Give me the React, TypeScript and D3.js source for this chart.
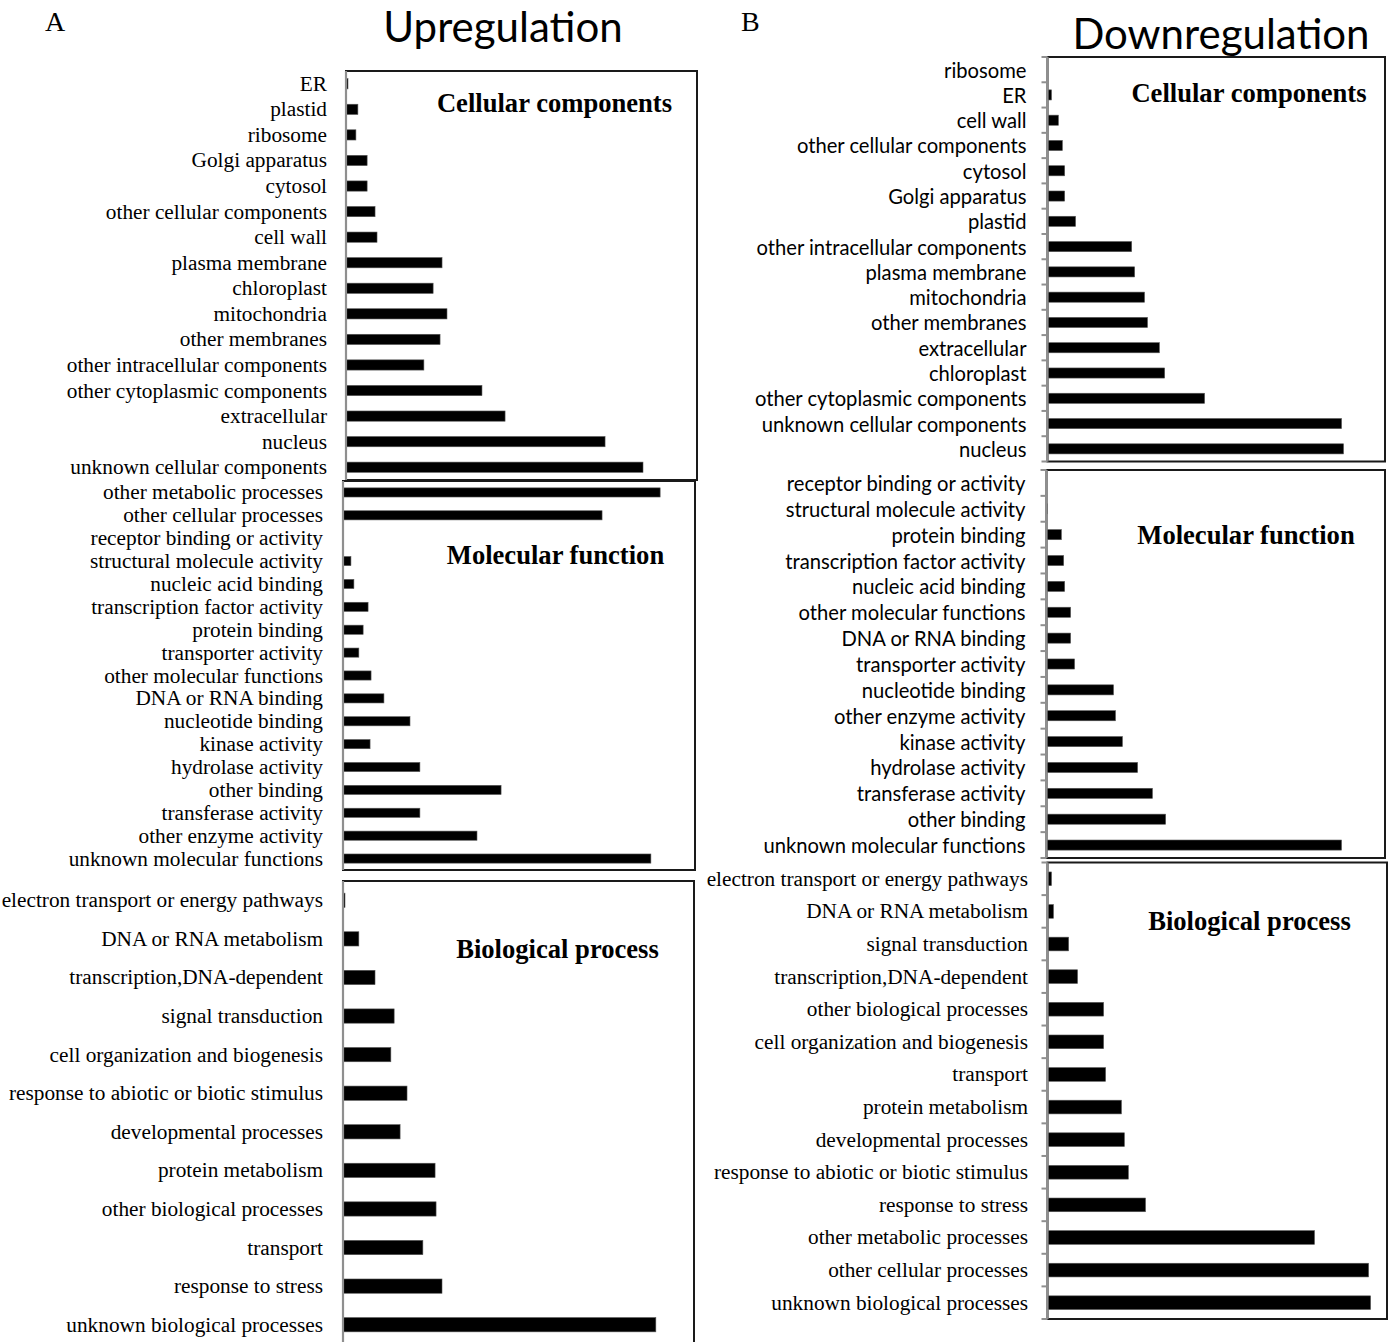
import React from "react";
import * as d3 from "d3";

// ---------- DATA ----------
const upCellCats = ["ER", "plastid", "ribosome", "Golgi apparatus", "cytosol", "other cellular components", "cell wall", "plasma membrane", "chloroplast", "mitochondria", "other membranes", "other intracellular components", "other cytoplasmic components", "extracellular", "nucleus", "unknown cellular components"];
const upCellVals = [0.6, 3.6, 3.0, 6.4, 6.4, 8.8, 9.4, 29.1, 26.4, 30.6, 28.5, 23.6, 41.2, 48.2, 78.5, 90.0];

const upMolCats = ["other metabolic processes", "other cellular processes", "receptor binding or activity", "structural molecule activity", "nucleic acid binding", "transcription factor activity", "protein binding", "transporter activity", "other molecular functions", "DNA or RNA binding", "nucleotide binding", "kinase activity", "hydrolase activity", "other binding", "transferase activity", "other enzyme activity", "unknown molecular functions"];
const upMolVals = [96.1, 78.5, 0, 2.4, 3.3, 7.6, 6.1, 4.8, 8.5, 12.4, 20.3, 8.2, 23.3, 47.9, 23.3, 40.6, 93.3];

const upBioCats = ["electron transport or energy pathways", "DNA or RNA metabolism", "transcription,DNA-dependent", "signal transduction", "cell organization and biogenesis", "response to abiotic or biotic stimulus", "developmental processes", "protein metabolism", "other biological processes", "transport", "response to stress", "unknown biological processes"];
const upBioVals = [0.6, 4.8, 9.7, 15.5, 14.5, 19.4, 17.3, 27.9, 28.2, 24.2, 30.0, 94.8];

const downCellCats = ["ribosome", "ER", "cell wall", "other cellular components", "cytosol", "Golgi apparatus", "plastid", "other intracellular components", "plasma membrane", "mitochondria", "other membranes", "extracellular", "chloroplast", "other cytoplasmic components", "unknown cellular components", "nucleus"];
const downCellVals = [0, 1.2, 3.3, 4.5, 5.2, 5.2, 8.5, 25.5, 26.4, 29.4, 30.3, 33.9, 35.5, 47.6, 89.1, 89.7];

const downMolCats = ["receptor binding or activity", "structural molecule activity", "protein binding", "transcription factor activity", "nucleic acid binding", "other molecular functions", "DNA or RNA binding", "transporter activity", "nucleotide binding", "other enzyme activity", "kinase activity", "hydrolase activity", "transferase activity", "other binding", "unknown molecular functions"];
const downMolVals = [0, 0.3, 4.5, 5.2, 5.5, 7.3, 7.3, 8.5, 20.3, 20.9, 23.0, 27.6, 32.1, 36.1, 89.4];

const downBioCats = ["electron transport or energy pathways", "DNA or RNA metabolism", "signal transduction", "transcription,DNA-dependent", "other biological processes", "cell organization and biogenesis", "transport", "protein metabolism", "developmental processes", "response to abiotic or biotic stimulus", "response to stress", "other metabolic processes", "other cellular processes", "unknown biological processes"];
const downBioVals = [1.2, 1.8, 6.4, 9.1, 17.0, 17.0, 17.6, 22.4, 23.3, 24.5, 29.7, 80.9, 97.3, 97.9];

const titles = ["Upregulation", "Downregulation"];
const letters = ["A", "B"];
const panelTitles = ["Cellular components", "Molecular function", "Biological process"];

// ---------- LAYOUT ----------
const SERIF = "'Liberation Serif', 'Times New Roman', serif";
const SANS = "Lato, 'Open Sans', sans-serif";

type Panel = {
  cats: string[]; vals: number[]; title: string;
  axisX: number; right: number; top: number; bottom: number;
  thick: number; labelGap: number; font: string; ticks: boolean;
  titleX: number; titleY: number;
};

const panels: Panel[] = [
  { cats: upCellCats, vals: upCellVals, title: panelTitles[0], axisX: 346, right: 697, top: 71, bottom: 480, thick: 0.4, labelGap: 19, font: SERIF, ticks: false, titleX: 554.5, titleY: 112 },
  { cats: upMolCats, vals: upMolVals, title: panelTitles[1], axisX: 343, right: 695, top: 481, bottom: 870, thick: 0.4, labelGap: 20, font: SERIF, ticks: false, titleX: 555.5, titleY: 564 },
  { cats: upBioCats, vals: upBioVals, title: panelTitles[2], axisX: 343, right: 694, top: 881, bottom: 1344, thick: 0.37, labelGap: 20, font: SERIF, ticks: false, titleX: 557.5, titleY: 958 },
  { cats: downCellCats, vals: downCellVals, title: panelTitles[0], axisX: 1047.5, right: 1385, top: 57, bottom: 461.5, thick: 0.4, labelGap: 21, font: SANS, ticks: true, titleX: 1249, titleY: 102 },
  { cats: downMolCats, vals: downMolVals, title: panelTitles[1], axisX: 1046.5, right: 1385, top: 470, bottom: 858, thick: 0.39, labelGap: 21, font: SANS, ticks: true, titleX: 1246, titleY: 544 },
  { cats: downBioCats, vals: downBioVals, title: panelTitles[2], axisX: 1047.5, right: 1387, top: 862.5, bottom: 1319, thick: 0.42, labelGap: 19.5, font: SERIF, ticks: true, titleX: 1249.5, titleY: 930 },
];

const PX_PER_UNIT = 3.3;

function PanelView({ p }: { p: Panel }) {
  const x = d3.scaleLinear().domain([0, 100]).range([p.axisX, p.axisX + 100 * PX_PER_UNIT]);
  const pad = 1 - p.thick;
  const y = d3.scaleBand<string>().domain(p.cats).range([p.top, p.bottom]).paddingInner(pad).paddingOuter(pad / 2);
  const step = y.step();
  const tickYs = d3.range(p.cats.length + 1).map((i) => p.top + i * step);
  return (
    <g>
      <rect x={p.axisX} y={p.top} width={p.right - p.axisX} height={p.bottom - p.top} fill="none" stroke="#1a1a1a" strokeWidth={2} />
      {p.cats.map((c, i) => (
        <rect key={c + i} x={x(0)} y={y(c)!} width={Math.max(0, x(p.vals[i]) - x(0))} height={y.bandwidth()} fill="#000" stroke="#555" strokeWidth={0.6} />
      ))}
      <line x1={p.axisX} x2={p.axisX} y1={p.top} y2={p.bottom} stroke="#8f8f8f" strokeWidth={2.2} />
      {p.ticks && tickYs.map((ty, i) => (
        <line key={"t" + i} x1={p.axisX - 6} x2={p.axisX} y1={ty} y2={ty} stroke="#8f8f8f" strokeWidth={2} />
      ))}
      {p.cats.map((c, i) => (
        <text key={"l" + i} x={p.axisX - p.labelGap} y={y(c)! + y.bandwidth() / 2} textAnchor="end" dominantBaseline="central" fontFamily={p.font} fontSize={p.font === SERIF ? 21.3 : 20.2} fill="#000">{c}</text>
      ))}
      <text x={p.titleX} y={p.titleY} textAnchor="middle" fontFamily={SERIF} fontWeight="bold" fontSize={26.6} fill="#000">{p.title}</text>
    </g>
  );
}

export default function App() {
  return (
    <div style={{ position: "absolute", left: 0, top: 0 }}>
      <svg width={1389} height={1342} viewBox="0 0 1389 1342" style={{ display: "block", background: "#fff" }}>
        <rect x={0} y={0} width={1389} height={1342} fill="#fff" />
        <text x={45} y={31} fontFamily={SERIF} fontSize={28} fill="#000">{letters[0]}</text>
        <text x={741} y={31} fontFamily={SERIF} fontSize={28} fill="#000">{letters[1]}</text>
        <text x={503} y={41.5} textAnchor="middle" fontFamily={SANS} fontSize={42} fill="#000">{titles[0]}</text>
        <text x={1221} y={49} textAnchor="middle" fontFamily={SANS} fontSize={42} fill="#000">{titles[1]}</text>
        {panels.map((p, i) => <PanelView key={i} p={p} />)}
      </svg>
    </div>
  );
}
